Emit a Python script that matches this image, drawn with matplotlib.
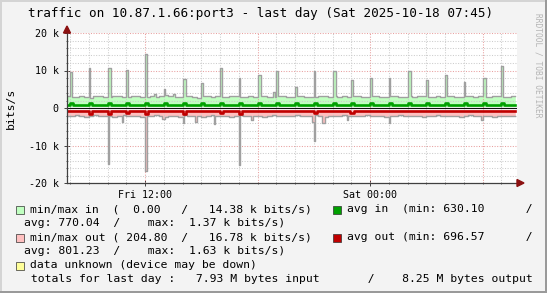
import numpy as np
import matplotlib
matplotlib.use("Agg")
import matplotlib.pyplot as plt
from matplotlib.patches import Polygon, Rectangle

W, H = 547, 293

# ---------------- data ----------------
# time in hours since Fri 00:00, values in k bits/s
t_first = 7.75            # first sample Fri 07:45
step_h = 5.0 / 60.0       # 5-minute samples
base_res = 3              # base values below are 15-minute values

max_in_base_k = [
    3.1, 2.9, 3.0, 3.2, 3.0, 2.8, 3.1, 3.3, 3.0, 2.9, 3.2, 3.1, 2.9, 3.0, 3.3, 3.2,
    3.0, 2.9, 3.1, 3.0, 3.2, 3.4, 3.1, 2.9, 3.0, 3.2, 3.1, 3.0, 2.8, 3.1, 3.2, 3.0,
    3.1, 2.9, 3.0, 3.2, 3.3, 3.0, 2.9, 3.1, 3.0, 3.2, 3.1, 2.9, 3.0, 3.3, 3.1, 3.0,
    2.9, 3.1, 3.2, 3.0, 2.9, 3.0, 3.2, 3.1, 3.0, 3.1, 2.9, 3.2, 3.0, 3.1, 3.3, 3.0,
    3.0, 3.2, 3.1, 2.9, 3.0, 3.1, 3.2, 3.0, 2.9, 3.1, 3.0, 3.2, 3.1, 3.0, 2.9, 3.2,
    3.0, 3.1, 3.2, 2.9, 3.0, 3.1, 3.3, 3.0, 3.1, 2.9, 3.0, 3.2, 3.1, 3.0, 2.9, 3.1]
max_out_base_k = [
    2.0, 2.2, 1.9, 2.1, 2.3, 2.0, 1.9, 2.1, 2.2, 2.0, 2.4, 2.1, 1.9, 2.0, 2.2, 2.1,
    2.3, 2.0, 2.1, 1.9, 2.2, 2.5, 2.0, 2.1, 2.3, 1.9, 2.0, 2.2, 2.1, 2.4, 2.0, 1.9,
    2.1, 2.2, 2.0, 2.3, 2.1, 1.9, 2.0, 2.2, 2.1, 2.0, 2.3, 2.1, 1.9, 2.0, 2.2, 2.1,
    2.0, 1.8, 2.1, 2.2, 2.0, 1.9, 2.1, 2.3, 2.0, 2.2, 2.1, 1.9, 2.0, 2.1, 2.2, 2.0,
    1.9, 2.1, 2.0, 2.2, 2.3, 2.0, 2.1, 1.9, 2.0, 2.2, 2.1, 2.0, 2.3, 2.1, 2.0, 1.9,
    2.1, 2.2, 2.0, 2.1, 2.3, 2.0, 1.9, 2.1, 2.2, 2.0, 2.1, 2.3, 2.0, 2.1, 2.2, 2.0]
min_in_k = 0.35
min_out_k = 0.45
avg_in_k = 0.72
avg_out_k = 0.78

in_spike_hours = list(range(8, 32))
in_spike_k = [9.7, 10.7, 10.7, 10.1, 14.38, 5.0, 7.7, 6.8, 10.7, 8.1, 8.8, 10.0,
              5.7, 10.0, 9.9, 7.5, 8.1, 8.1, 9.9, 7.5, 8.8, 7.0, 7.9, 11.3]
in_spike_width = [1, 1, 2, 1, 1, 1, 2, 1, 1, 1, 2, 1,
                  1, 1, 2, 1, 1, 1, 2, 1, 1, 1, 2, 1]
in_bump_hours = [12.53, 13.49, 18.84]
in_bump_k = [3.8, 3.8, 4.3]

out_spike_hours = [10.0, 10.75, 12.0, 12.9, 14.0, 14.67, 15.67, 17.0, 17.7,
                   20.9, 21.0, 21.45, 22.75, 25.0, 29.9]
out_spike_k = [14.9, 3.8, 16.78, 2.8, 4.0, 3.6, 4.2, 15.1, 3.1,
               3.6, 8.9, 4.0, 3.3, 4.0, 3.3]
out_spike_width = [1, 1, 1, 2, 1, 1, 1, 1, 1,
                   2, 1, 2, 1, 1, 1]

avg_in_peak_hours = list(range(8, 32))
avg_in_peak_k = [1.30, 1.33, 1.35, 1.30, 1.37, 1.28, 1.33, 1.30, 1.35, 1.30, 1.33, 1.30,
                 1.28, 1.33, 1.35, 1.30, 1.32, 1.30, 1.35, 1.30, 1.33, 1.30, 1.34, 1.30]
avg_out_peak_hours = [9, 10, 11, 12, 14, 16, 17, 21, 22.9]
avg_out_peak_k = [1.50, 1.60, 1.45, 1.63, 1.50, 1.40, 1.55, 1.35, 1.30]
avg_out_peak_width = [2, 2, 2, 2, 2, 2, 2, 2, 3]

x_ticks_h = [12, 24]
x_tick_labels = ["Fri 12:00", "Sat 00:00"]
y_ticks = [-20000, -10000, 0, 10000, 20000]
y_tick_labels = ["-20 k", "-10 k", "0", "10 k", "20 k"]

title = "traffic on 10.87.1.66:port3 - last day (Sat 2025-10-18 07:45)"

# ---------------- build series ----------------
n = len(max_in_base_k) * base_res
edges = t_first + np.arange(n + 1) * step_h


def idx(h):
    return int(round((h - t_first) / step_h))


max_in = np.repeat(np.array(max_in_base_k), base_res)
for h, v, w in zip(in_spike_hours, in_spike_k, in_spike_width):
    i = idx(h); max_in[i:i + w] = np.maximum(max_in[i:i + w], v)
for h, v in zip(in_bump_hours, in_bump_k):
    i = idx(h); max_in[i] = max(max_in[i], v)

max_out = np.repeat(np.array(max_out_base_k), base_res)
for h, v, w in zip(out_spike_hours, out_spike_k, out_spike_width):
    i = idx(h); max_out[i:i + w] = np.maximum(max_out[i:i + w], v)

avg_in = np.full(n, avg_in_k)
for h, v in zip(avg_in_peak_hours, avg_in_peak_k):
    i = idx(h); avg_in[i:i + 2] = v
avg_out = np.full(n, avg_out_k)
for h, v, w in zip(avg_out_peak_hours, avg_out_peak_k, avg_out_peak_width):
    i = idx(h); avg_out[i:i + w] = v

min_in = np.full(n, min_in_k)
min_out = np.full(n, min_out_k)


def ext(a):
    return np.append(a, a[-1]) * 1000.0


# ---------------- draw ----------------
BG = "#F3F3F3"
LG = "#C0FFC0"
DG = "#00A000"
PK = "#FFC0C0"
DR = "#C00000"
GREY = "#A0A0A0"
YEL = "#FFFF99"
MONO = "DejaVu Sans Mono"

fig = plt.figure(figsize=(W / 100, H / 100), dpi=100, facecolor=BG)
ax_l, ax_r, ax_t, ax_b = 67, 517, 33, 183
ax = fig.add_axes([ax_l / W, 1 - ax_b / H, (ax_r - ax_l) / W, (ax_b - ax_t) / H])
ax.set_facecolor("white")

ax.set_xlim(12 - (145 - ax_l) / 18.75, 12 + (ax_r - 145) / 18.75)
ax.set_ylim(-20000, 20000)

# grid
for v in range(-20000, 20001, 2000):
    major = v % 10000 == 0
    ax.axhline(v, color="#E8A0A0" if major else "#CCCCCC", lw=0.75,
               ls=(0, (1, 1.5)), zorder=3)
for h in range(8, 32):
    major = h % 6 == 0
    ax.axvline(h, color="#E8A0A0" if major else "#CCCCCC", lw=0.75,
               ls=(0, (1, 1.5)), zorder=3)

ax.fill_between(edges, ext(min_in), ext(max_in), step="post", color=LG, lw=0, zorder=2)
ax.fill_between(edges, -ext(max_out), -ext(min_out), step="post", color=PK, lw=0, zorder=2)
ax.step(edges, ext(max_in), where="post", color=GREY, lw=1.0, zorder=4)
ax.step(edges, -ext(max_out), where="post", color=GREY, lw=1.0, zorder=4)
ax.axhline(0, color="#101010", lw=0.8, zorder=5)
ax.step(edges, ext(avg_in), where="post", color=DG, lw=1.9, zorder=6)
ax.step(edges, -ext(avg_out), where="post", color=DR, lw=1.9, zorder=6)

for s in ["top", "right"]:
    ax.spines[s].set_visible(False)
for s in ["left", "bottom"]:
    ax.spines[s].set_color("#404040")
    ax.spines[s].set_linewidth(0.9)
    ax.spines[s].set_zorder(7)

ax.set_yticks(y_ticks)
ax.set_yticklabels(y_tick_labels, family=MONO, fontsize=7.2)
ax.set_yticks(list(range(-20000, 20001, 2000)), minor=True)
ax.set_xticks(x_ticks_h)
ax.set_xticklabels(x_tick_labels, family=MONO, fontsize=7.2)
ax.set_xticks(list(range(8, 32)), minor=True)
ax.tick_params(axis="both", which="major", direction="inout", length=4, width=0.7,
               color="#404040", pad=3)
ax.tick_params(axis="both", which="minor", direction="inout", length=2, width=0.6,
               color="#404040")
ax.tick_params(axis="y", pad=4)


def px(x, y):
    return (x / W, 1 - y / H)


ARC = "#8B1010"
fig.add_artist(Polygon([px(63.5, 33), px(70.5, 33), px(67, 26)], closed=True,
                       transform=fig.transFigure, color=ARC, zorder=10))
fig.add_artist(Polygon([px(517, 179.5), px(517, 186.5), px(524, 183)], closed=True,
                       transform=fig.transFigure, color=ARC, zorder=10))

# texts
fig.text(*px(28.5, 13.5), title, family=MONO, fontsize=9.1, ha="left", va="center")
fig.text(*px(11, 108), "bits/s", family=MONO, fontsize=8.2, rotation=90,
         ha="center", va="center")
fig.text(*px(538, 13), "RRDTOOL / TOBI OETIKER", family=MONO, fontsize=5.7,
         rotation=270, ha="center", va="top", color="#B4B4B4")

LEG = 8.2
rows = [
    (209.5, LG, "min/max in  (  0.00   /   14.38 k bits/s)", DG,
     "avg in  (min: 630.10      /"),
    (223.5, None, "avg: 770.04  /    max:  1.37 k bits/s)", None, None),
    (237.5, PK, "min/max out ( 204.80  /   16.78 k bits/s)", DR,
     "avg out (min: 696.57      /"),
    (251.5, None, "avg: 801.23  /    max:  1.63 k bits/s)", None, None),
    (265.5, YEL, "data unknown (device may be down)", None, None),
    (279.5, None, " totals for last day :   7.93 M bytes input       /    8.25 M bytes output",
     None, None),
]
for y, c1, t1, c2, t2 in rows:
    if c1 is not None:
        fig.add_artist(Rectangle(px(15.5, y + 4), 8 / W, 8 / H, transform=fig.transFigure,
                                 facecolor=c1, edgecolor="#303030", lw=0.5))
        fig.text(*px(30.4, y), t1, family=MONO, fontsize=LEG, ha="left", va="center")
    else:
        fig.text(*px(23.5, y), t1, family=MONO, fontsize=LEG, ha="left", va="center")
    if c2 is not None:
        fig.add_artist(Rectangle(px(333, y + 4), 8 / W, 8 / H, transform=fig.transFigure,
                                 facecolor=c2, edgecolor="#303030", lw=0.5))
        fig.text(*px(347, y), t2, family=MONO, fontsize=LEG, ha="left", va="center")

# 3D frame of the canvas
fig.add_artist(Rectangle(px(0, 293), 2 / W, 1, transform=fig.transFigure,
                         facecolor="#D4D4D4", lw=0))
fig.add_artist(Rectangle(px(0, 2), 1, 2 / H, transform=fig.transFigure,
                         facecolor="#D4D4D4", lw=0))
fig.add_artist(Rectangle(px(545, 293), 2 / W, 1, transform=fig.transFigure,
                         facecolor="#9A9A9A", lw=0))
fig.add_artist(Rectangle(px(0, 293), 1, 2 / H, transform=fig.transFigure,
                         facecolor="#9A9A9A", lw=0))

fig.savefig("out.png", dpi=100, facecolor=BG)
